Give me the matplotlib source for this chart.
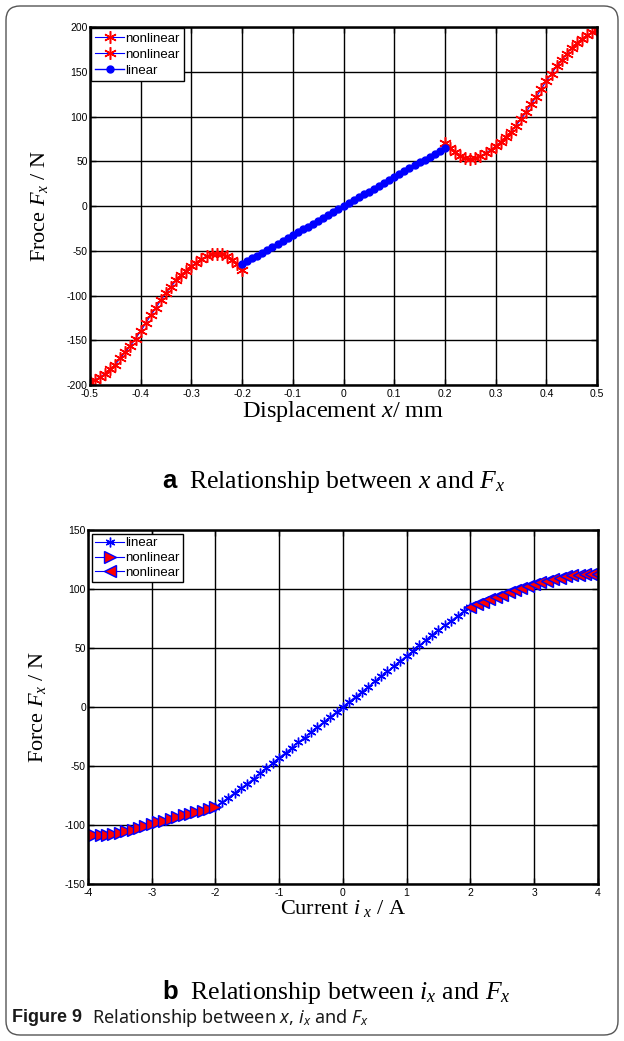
import numpy as np
import matplotlib
matplotlib.use('Agg')
import matplotlib.pyplot as plt
from matplotlib.patches import FancyBboxPatch

plt.rcParams['font.family'] = ['Liberation Sans', 'DejaVu Sans']
plt.rcParams['mathtext.fontset'] = 'custom'
plt.rcParams['mathtext.rm'] = 'Liberation Serif'
plt.rcParams['mathtext.it'] = 'Liberation Serif:italic'
plt.rcParams['mathtext.sf'] = 'Liberation Sans:bold'
plt.rcParams['mathtext.cal'] = 'Noto Sans:italic'
plt.rcParams['axes.unicode_minus'] = False

# ---- panel a: displacement x (mm) vs force Fx (N)
xa_nl1 = np.linspace(-0.5, -0.2, 31)
fa_nl1 = [-196, -194, -191, -187, -182, -177, -170, -163, -156, -148,
          -140, -131, -122, -114, -105, -97, -90, -83, -77, -72,
          -67, -63, -59, -56, -54, -53, -53.5, -56, -60, -65, -71]
xa_nl2 = np.linspace(0.2, 0.5, 31)
fa_nl2 = [71, 65, 60, 56, 53.5, 53, 54, 56, 59, 63,
          67, 72, 77, 83, 90, 97, 105, 114, 122, 131,
          140, 148, 156, 163, 170, 177, 182, 187, 191, 194, 197]
xa_lin = np.linspace(-0.2, 0.2, 41)
fa_lin = [-65, -61.8, -58.5, -55.3, -52, -48.8, -45.5, -42.3, -39, -35.8,
          -32.5, -29.3, -26, -22.8, -19.5, -16.3, -13, -9.8, -6.5, -3.3,
          0, 3.3, 6.5, 9.8, 13, 16.3, 19.5, 22.8, 26, 29.3,
          32.5, 35.8, 39, 42.3, 45.5, 48.8, 52, 55.3, 58.5, 61.8, 65]
xa_ticks = [-0.5, -0.4, -0.3, -0.2, -0.1, 0, 0.1, 0.2, 0.3, 0.4, 0.5]
xa_labels = ['-0.5', '-0.4', '-0.3', '-0.2', '-0.1', '0', '0.1', '0.2', '0.3', '0.4', '0.5']
ya_ticks = [-200, -150, -100, -50, 0, 50, 100, 150, 200]

# ---- panel b: current ix (A) vs force Fx (N)
xb_lin = np.linspace(-2, 2, 41)
fb_lin = [-85, -81, -77, -73, -69, -65, -61, -56.5, -52, -47.5,
          -43, -39, -34.5, -30, -26, -21.5, -17, -13, -8.5, -4.5,
          0, 4.5, 8.5, 13, 17, 21.5, 26, 30, 34.5, 39,
          43, 47.5, 52, 56.5, 61, 65, 69, 73, 77, 81, 85]
xb_nl1 = np.linspace(-4, -2, 21)
fb_nl1 = [-108.5, -108.8, -109, -108.8, -108, -107, -105.5, -104, -102.5, -101,
          -99.5, -98, -96.5, -95, -93.5, -92, -91, -89.5, -88, -86.5, -85]
xb_nl2 = np.linspace(2, 4, 21)
fb_nl2 = [85, 87, 89, 91, 93, 95, 97, 99, 101, 102.5,
          104, 105.5, 107, 108, 109.5, 110.5, 111.5, 112, 112.5, 113, 113]
xb_ticks = [-4, -3, -2, -1, 0, 1, 2, 3, 4]
yb_ticks = [-150, -100, -50, 0, 50, 100, 150]

asterisk = (6, 2, 0)

fig = plt.figure(figsize=(6.24, 10.41), dpi=100)

# rounded frame around the whole figure (pixel coords)
bg = fig.add_axes([0, 0, 1, 1])
bg.set_xlim(0, 624)
bg.set_ylim(1041, 0)
bg.axis('off')
bg.add_patch(FancyBboxPatch((6, 6), 612, 1029, boxstyle='round,pad=0,rounding_size=14',
                            fill=False, edgecolor='#555555', lw=1.0))


def style_axes(ax):
    ax.set_axisbelow(True)
    ax.grid(True, color='black', lw=1.0, ls='-')
    for s in ax.spines.values():
        s.set_linewidth(1.8)
    ax.tick_params(direction='in', top=True, right=True, length=4, width=1,
                   labelsize=7.5, colors='black')
    ax.tick_params(axis='x', pad=3)
    ax.tick_params(axis='y', pad=1.5)


ax1 = fig.add_axes([0.144, 0.630, 0.813, 0.344])
ax1.plot(xa_nl1, fa_nl1, color='blue', lw=0.8, marker=asterisk, ms=9, mec='red', mew=1.1,
         label='nonlinear')
ax1.plot(xa_nl2, fa_nl2, color='blue', lw=0.8, marker=asterisk, ms=9, mec='red', mew=1.1,
         label='nonlinear')
ax1.plot(xa_lin, fa_lin, color='blue', lw=1.0, marker='o', ms=5, mfc='blue', mec='blue',
         label='linear')
ax1.set_xlim(-0.5, 0.5)
ax1.set_ylim(-200, 200)
ax1.set_xticks(xa_ticks)
ax1.set_xticklabels(xa_labels)
ax1.set_yticks(ya_ticks)
style_axes(ax1)
ax1.set_xlabel(r'Displacement $x$/ mm', family='Liberation Serif', fontsize=17.5, labelpad=0)
ax1.set_ylabel(r'Froce $F_{x}$ / N', family='Liberation Serif', fontsize=16, labelpad=12)
leg1 = ax1.legend(loc='upper left', fontsize=9.5, fancybox=False, edgecolor='black',
                  framealpha=1, borderaxespad=0.1, handlelength=2.2, labelspacing=0.3,
                  borderpad=0.3, handletextpad=0.1)
leg1.get_frame().set_linewidth(1.0)

ax2 = fig.add_axes([0.141, 0.151, 0.817, 0.340])
ax2.plot(xb_lin, fb_lin, color='blue', lw=0.8, marker=asterisk, ms=7, mec='blue', mew=1.0,
         label='linear')
ax2.plot(xb_nl1, fb_nl1, color='blue', lw=0.8, marker='>', ms=8, mfc='red', mec='blue',
         mew=1.0, label='nonlinear')
ax2.plot(xb_nl2, fb_nl2, color='blue', lw=0.8, marker='<', ms=8, mfc='red', mec='blue',
         mew=1.0, label='nonlinear')
ax2.set_xlim(-4, 4)
ax2.set_ylim(-150, 150)
ax2.set_xticks(xb_ticks)
ax2.set_yticks(yb_ticks)
style_axes(ax2)
ax2.set_xlabel(r'Current $i_{\ x}$ / A', family='Liberation Serif', fontsize=16, labelpad=0)
ax2.set_ylabel(r'Force $F_{x}$ / N', family='Liberation Serif', fontsize=16, labelpad=12)
leg2 = ax2.legend(loc='upper left', fontsize=9.5, fancybox=False, edgecolor='black',
                  framealpha=1, borderaxespad=0.3, handlelength=2.2, labelspacing=0.2,
                  borderpad=0.25, handletextpad=0.1)
leg2.get_frame().set_linewidth(1.0)

# captions
fig.text(334 / 624, 1 - 482 / 1041, r'$\mathsf{a}$  Relationship between $x$ and $F_x$',
         family='Liberation Serif', fontsize=18.5, ha='center', va='center')
fig.text(336 / 624, 1 - 992 / 1041, r'$\mathsf{b}$  Relationship between $i_x$ and $F_x$',
         family='Liberation Serif', fontsize=18.5, ha='center', va='center')
t_fig = fig.text(12 / 624, 1 - 1018 / 1041, 'Figure 9', family='Liberation Sans',
                 weight='bold', fontsize=13, ha='left', va='center', color='#1a1a1a')
bg.annotate(r'Relationship between $\mathcal{x}$, $\mathcal{i}_\mathcal{x}$ and $\mathcal{F}_\mathcal{x}$',
            xy=(1, 0.5), xycoords=t_fig, xytext=(7, 0), textcoords='offset points',
            family='Noto Sans', fontsize=13, ha='left', va='center', color='#1a1a1a')

fig.savefig('out.png', dpi=100)
